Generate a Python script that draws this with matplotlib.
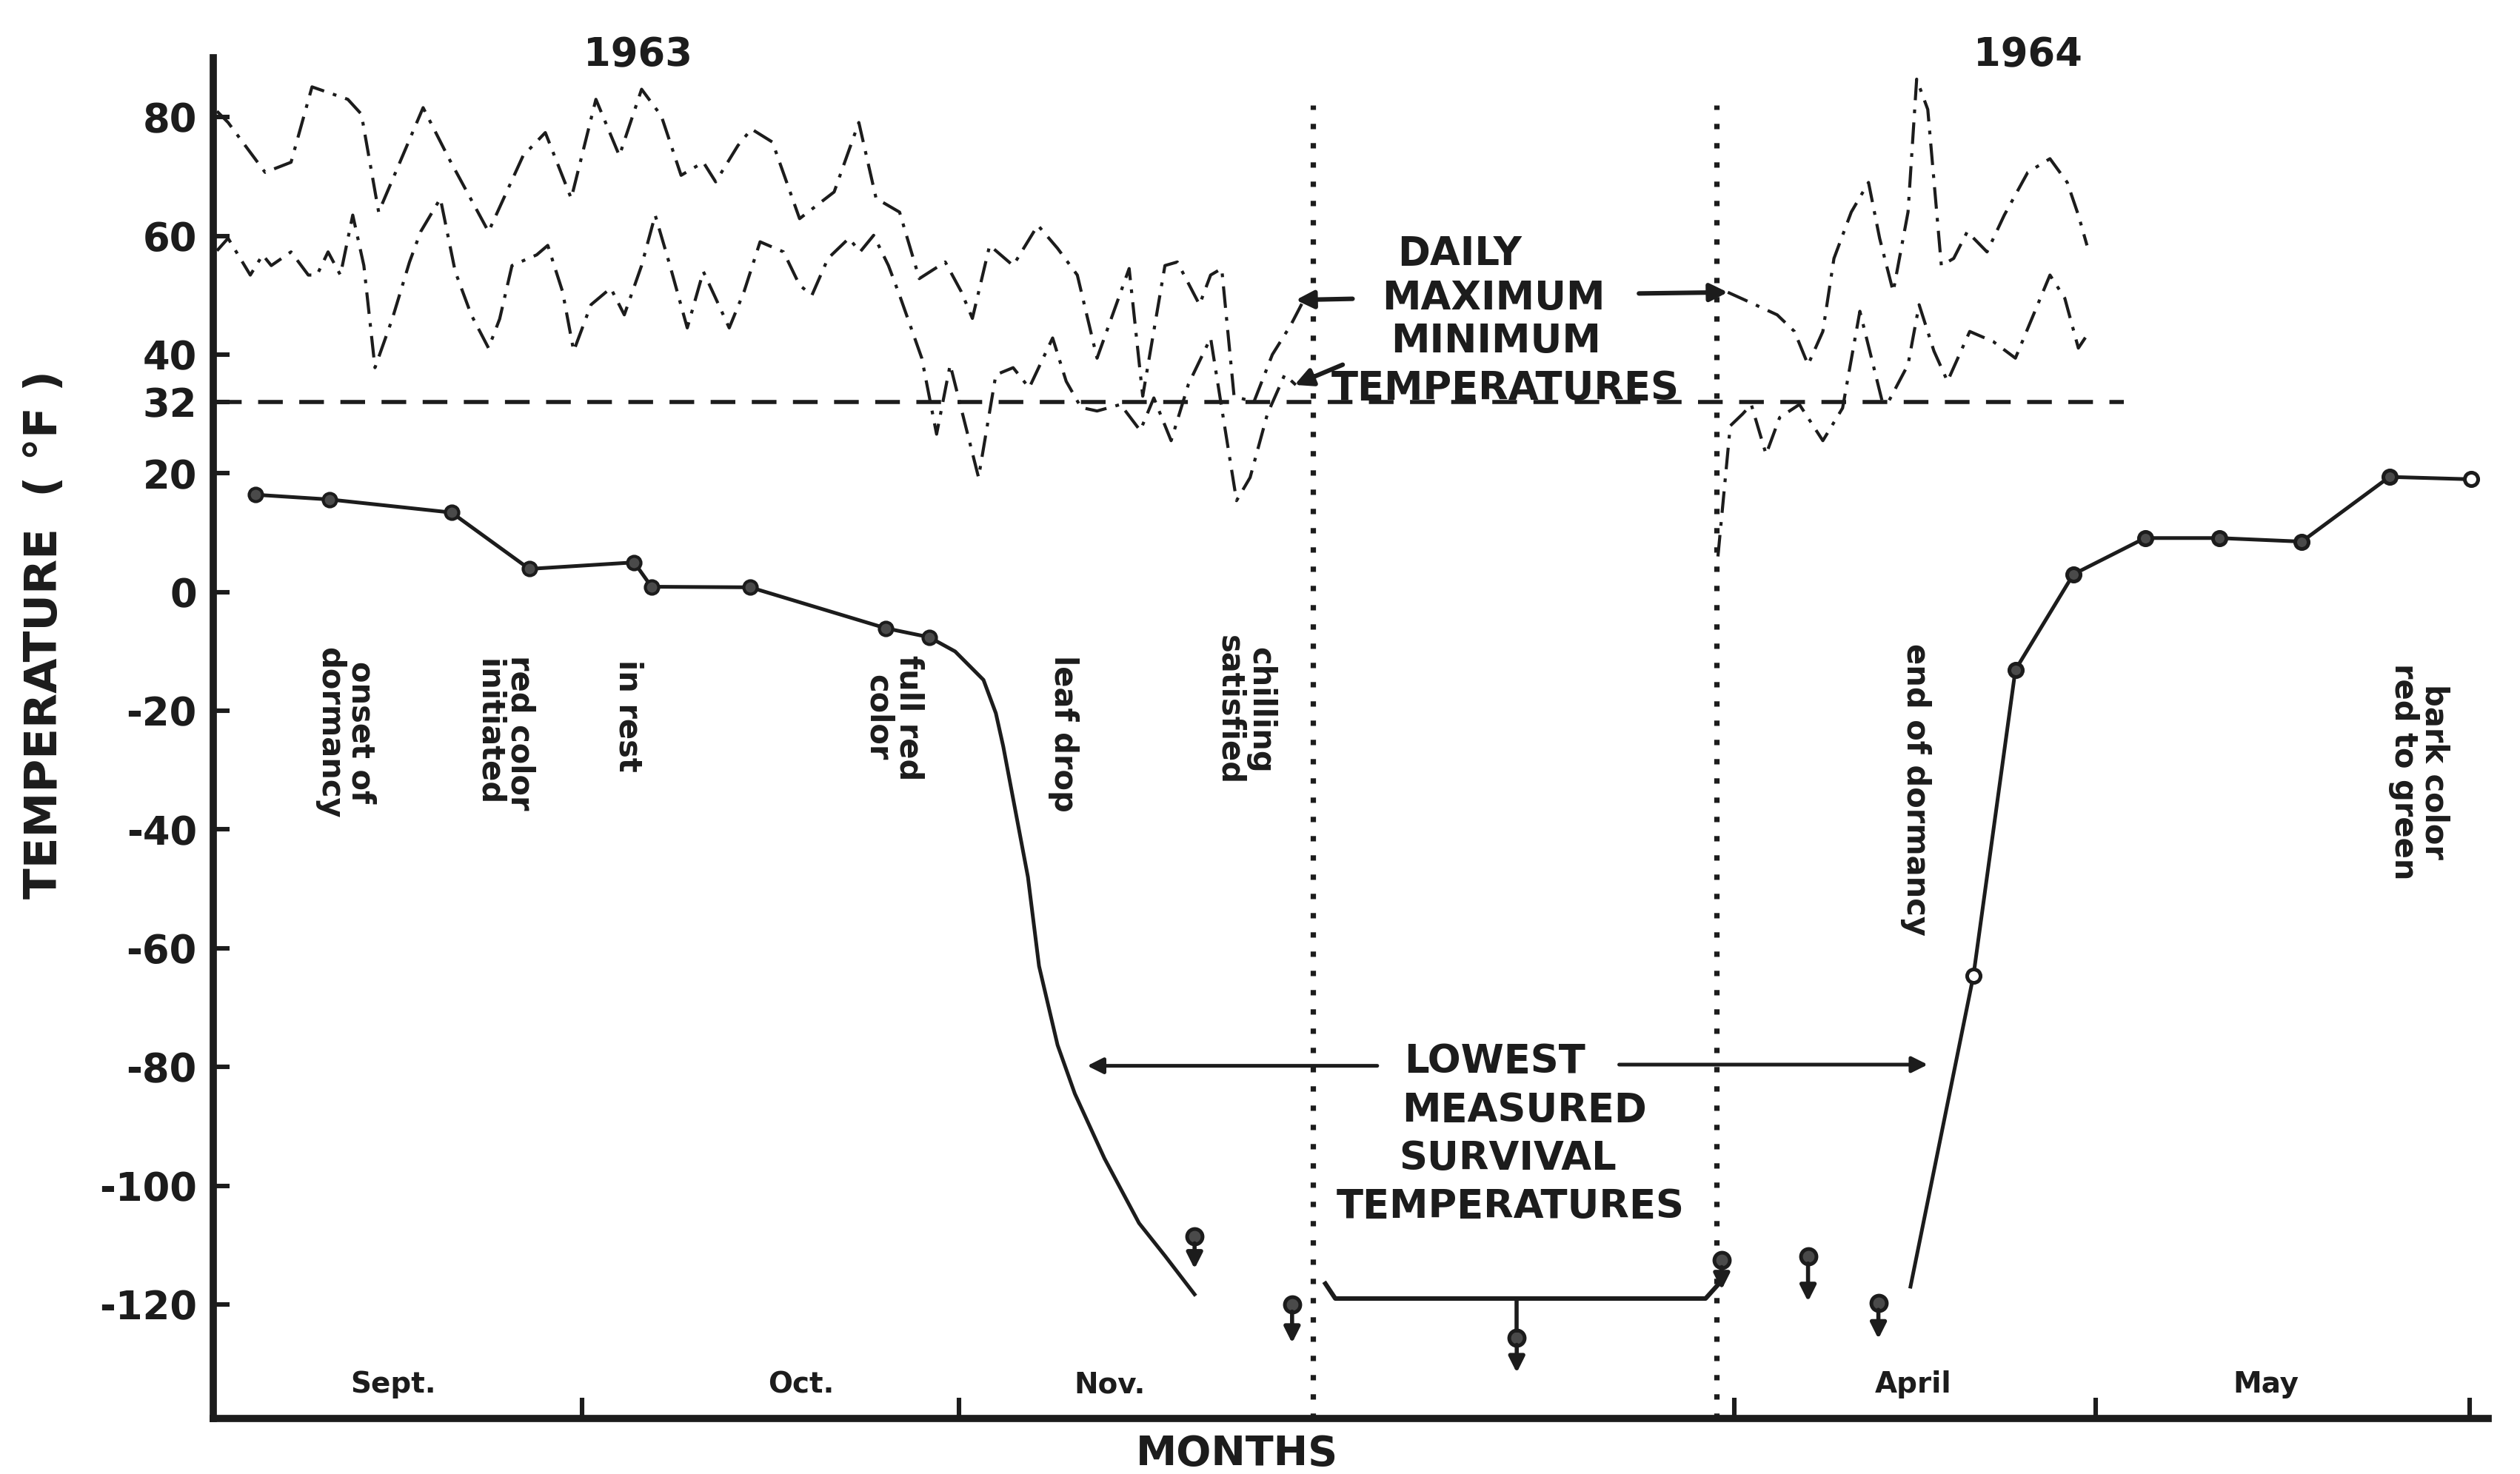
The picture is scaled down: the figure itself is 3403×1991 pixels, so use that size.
import numpy as np
import matplotlib
matplotlib.use("Agg")
import matplotlib.pyplot as plt

plt.rcParams['font.family'] = ['DejaVu Sans']
plt.rcParams['axes.unicode_minus'] = False

INK = '#1c1c1c'

# ---------------- data (x = chart day index, 0 = 1 Sept 1963; winter compressed) ----------------
max63_day = [0.0, 0.9, 3.9, 6.0, 7.7, 10.6, 11.7, 13.1, 16.7, 18.8, 22.0, 24.8, 26.6, 28.7, 30.7,
             32.6, 34.4, 36.0, 37.6, 39.4, 40.4, 42.2, 43.3, 45.0, 47.2, 50.0, 52.0, 53.4, 55.3,
             56.9, 59.0, 60.3, 61.2, 62.6, 64.5, 66.5, 68.1, 69.7, 71.3, 73.9, 75.0, 76.8, 77.8,
             79.6, 80.5, 81.4, 82.4, 84.0, 85.5, 87.0, 88.0]
max63_val = [81.0, 79.1, 70.7, 72.4, 85.1, 83.0, 80.5, 64.0, 81.6, 73.0, 60.7, 73.5, 77.4, 66.3, 83.0,
             73.5, 84.7, 80.2, 70.2, 72.4, 69.1, 75.2, 78.0, 75.8, 62.9, 67.4, 79.1, 66.3, 64.0,
             52.8, 55.6, 50.6, 46.1, 58.4, 55.0, 61.8, 57.9, 53.4, 39.4, 54.5, 33.0, 55.0, 55.6,
             48.4, 53.4, 54.5, 33.0, 32.0, 40.0, 45.0, 49.0]

min63_day = [0.0, 0.9, 2.7, 3.7, 4.4, 6.0, 7.4, 8.1, 9.0, 10.0, 11.0, 11.9, 12.8, 14.2, 15.6, 16.5,
             18.1, 19.3, 20.6, 22.0, 22.9, 23.9, 25.9, 26.8, 28.0, 28.9, 30.3, 31.9, 33.0, 34.4,
             35.5, 36.7, 38.1, 39.4, 40.4, 41.5, 42.7, 44.0, 45.9, 47.2, 48.2, 49.5, 51.2, 52.1,
             53.2, 54.4, 55.3, 57.1, 58.3, 59.4, 61.7, 63.1, 64.5, 65.8, 67.7, 68.8, 70.0, 71.3,
             73.2, 74.8, 75.9, 77.3, 78.7, 80.5, 81.4, 82.6, 83.7, 85.1, 86.5, 87.4]
min63_val = [57.5, 59.6, 53.4, 56.8, 55.0, 57.3, 53.4, 53.4, 57.3, 53.4, 63.5, 55.0, 37.8, 46.0, 55.6,
             60.7, 66.3, 54.0, 46.7, 41.1, 46.0, 55.0, 56.8, 58.4, 50.6, 40.6, 48.4, 51.2, 46.7,
             55.0, 63.5, 55.0, 44.5, 54.0, 49.5, 44.5, 50.6, 59.0, 57.3, 51.7, 50.0, 56.2, 59.6,
             57.3, 60.1, 55.0, 50.0, 39.4, 26.6, 38.3, 19.3, 36.6, 37.8, 34.4, 42.8, 35.5, 31.1,
             30.5, 31.6, 27.2, 32.7, 25.5, 35.0, 42.8, 31.0, 15.4, 19.3, 30.0, 36.6, 34.9]

max64_day = [122.4, 124.1, 126.4, 127.8, 128.9, 130.1, 131.0, 132.4, 133.8, 134.7, 135.8, 137.0,
             137.7, 138.6, 139.7, 140.7, 141.8, 143.4, 144.8, 146.7, 148.5, 149.9, 150.8, 151.5]
max64_val = [50.5, 48.9, 46.7, 43.9, 38.3, 43.9, 56.2, 64.0, 69.0, 59.6, 50.6, 64.0,
             86.4, 81.3, 55.0, 56.2, 60.7, 57.3, 63.5, 70.7, 73.0, 69.0, 63.5, 58.4]

min64_day = [121.6, 122.6, 123.6, 124.3, 125.5, 126.6, 128.2, 130.1, 131.7, 133.1, 134.9, 135.4,
             137.0, 137.9, 139.1, 140.2, 142.0, 143.9, 145.7, 148.5, 149.7, 150.8, 151.7]
min64_val = [6.0, 28.0, 30.0, 31.6, 23.2, 29.4, 31.6, 25.5, 31.0, 47.3, 32.2, 32.0,
             38.3, 48.4, 40.6, 35.5, 43.9, 42.2, 39.4, 53.4, 49.5, 41.1, 43.9]

# lowest survival temperature (hardiness), autumn 1963
fall_day = [3.1, 9.1, 19.0, 25.3, 33.8, 35.2, 43.2, 54.2, 57.7, 59.8, 62.1, 63.1, 63.7, 64.7,
            65.7, 66.6, 68.1, 69.5, 71.9, 74.7, 76.8, 79.2]
fall_val = [16.4, 15.6, 13.4, 3.9, 5.0, 0.9, 0.8, -6.1, -7.6, -10.0, -14.8, -20.4, -26.0, -37.0,
            -48.0, -63.0, -76.3, -84.5, -95.4, -106.3, -111.8, -118.3]
fall_n_measured = 9

# spring 1964
spring_day = [137.2, 142.3, 145.7, 150.4, 156.2, 162.2, 168.9, 176.0, 182.6]
spring_val = [-117.0, -64.6, -13.1, 3.0, 9.1, 9.1, 8.5, 19.4, 19.0]
spring_open = [142.3, 182.6]

# winter survival tests (survived at least this low)
surv_day = [79.2, 87.1, 105.3, 121.9, 128.9, 134.6]
surv_val = [-108.5, -120.0, -125.6, -112.5, -111.9, -119.7]
surv_tip = [-114.0, -126.5, -131.5, -117.5, -119.5, -125.8]

bracket_day = [89.8, 90.6, 120.6, 121.9]
bracket_val = [-116.5, -119.0, -119.0, -116.0]

chill_day = 88.8
dormancy_end_day = 121.5

month_bounds = [29.6, 60.1, 122.9, 152.2, 182.5]
month_names = ['Sept.', 'Oct.', 'Nov.', 'April', 'May']
month_label_day = [14.3, 47.3, 72.3, 137.4, 166.0]

yticks = [80, 60, 40, 32, 20, 0, -20, -40, -60, -80, -100, -120]

event_labels = ['onset of\ndormancy', 'red color\ninitiated', 'in rest', 'full red\ncolor',
                'leaf drop', 'chilling\nsatisfied', 'end of dormancy', 'bark color\nred to green']
event_day = [10.4, 23.3, 33.3, 54.8, 68.6, 83.3, 137.6, 178.4]
event_top = [-9.2, -10.6, -11.4, -10.6, -10.6, -7.3, -8.7, -12.0]

# ---------------- figure ----------------
W, H = 3403, 1991
fig = plt.figure(figsize=(W / 200, H / 200), dpi=200, facecolor='white')
ax = fig.add_axes([288 / W, 0.0377, (3360 - 288) / W, 0.9608 - 0.0377])
ax.set_xlim(-0.3, 184)
ax.set_ylim(-139.2, 90)

for s in ['top', 'right']:
    ax.spines[s].set_visible(False)
for s in ['left', 'bottom']:
    ax.spines[s].set_linewidth(3.5)
    ax.spines[s].set_color(INK)

ax.set_yticks(yticks)
ax.set_yticklabels([str(v) for v in yticks], fontweight='bold')
ax.tick_params(axis='y', direction='in', length=8, width=2.2, pad=8,
               labelsize=19, colors=INK)
ax.set_xticks(month_bounds)
ax.set_xticklabels([])
ax.tick_params(axis='x', direction='in', length=10, width=2.2, colors=INK)

dashdot = (0, (7, 3, 1.2, 3))
ax.plot(max63_day, max63_val, color=INK, lw=1.5, ls=dashdot)
ax.plot(min63_day, min63_val, color=INK, lw=1.5, ls=dashdot)
ax.plot(max64_day, max64_val, color=INK, lw=1.5, ls=dashdot)
ax.plot(min64_day, min64_val, color=INK, lw=1.5, ls=dashdot)

# 32 F reference
ax.plot([0, 154.5], [32, 32], color=INK, lw=2.0, ls=(0, (6, 4)))

# dotted verticals
for d in [chill_day, dormancy_end_day]:
    ax.plot([d, d], [-139.2, 82], color=INK, lw=2.6, ls=(0, (1, 2.6)))

# hardiness curves
ax.plot(fall_day, fall_val, color=INK, lw=1.8)
ax.plot(fall_day[:fall_n_measured], fall_val[:fall_n_measured], ls='none', marker='o',
        ms=6.5, mfc='#4a4a4a', mec=INK, mew=1.5)
ax.plot(spring_day, spring_val, color=INK, lw=1.8)
for d, v in zip(spring_day[1:], spring_val[1:]):
    face = 'white' if d in spring_open else '#4a4a4a'
    ax.plot([d], [v], ls='none', marker='o', ms=6.5, mfc=face, mec=INK, mew=1.8)

# survival tests with downward arrows
for d, v, t in zip(surv_day, surv_val, surv_tip):
    ax.annotate('', xy=(d, t), xytext=(d, v - 1.2),
                arrowprops=dict(arrowstyle='-|>', lw=2.0, color=INK, mutation_scale=16,
                                shrinkA=0, shrinkB=0))
    ax.plot([d], [v], ls='none', marker='o', ms=7.5, mfc='#4a4a4a', mec=INK, mew=1.8)

ax.plot(bracket_day, bracket_val, color=INK, lw=2.2)
ax.plot([surv_day[2], surv_day[2]], [bracket_val[1], surv_val[2] + 1.2], color=INK, lw=2.0)

# ---------------- texts ----------------
cap = dict(fontsize=19, color=INK, ha='center', va='center', fontweight='bold')
ax.text(34.1, 90.5, '1963', clip_on=False, **cap)
ax.text(146.7, 90.5, '1964', clip_on=False, **cap)

ax.text(100.7, 57.0, 'DAILY', **cap)
ax.text(103.4, 49.5, 'MAXIMUM', **cap)
ax.text(103.6, 42.2, 'MINIMUM', **cap)
ax.text(104.4, 34.3, 'TEMPERATURES', **cap)

arr = dict(arrowstyle='-|>', lw=2.2, color=INK, mutation_scale=18, shrinkA=0, shrinkB=0)
ax.annotate('', xy=(87.4, 49.2), xytext=(92.0, 49.4), arrowprops=arr)
ax.annotate('', xy=(122.4, 50.5), xytext=(115.2, 50.3), arrowprops=arr)
ax.annotate('', xy=(87.3, 34.9), xytext=(91.2, 38.3), arrowprops=arr)

ax.text(103.5, -79.1, 'LOWEST', **cap)
ax.text(105.9, -87.3, 'MEASURED', **cap)
ax.text(104.6, -95.4, 'SURVIVAL', **cap)
ax.text(104.8, -103.5, 'TEMPERATURES', **cap)
arr2 = dict(arrowstyle='-|>', lw=1.8, color=INK, mutation_scale=16, shrinkA=0, shrinkB=0)
ax.annotate('', xy=(70.5, -79.8), xytext=(94.0, -79.8), arrowprops=arr2)
ax.annotate('', xy=(138.6, -79.6), xytext=(113.6, -79.6), arrowprops=arr2)

for lab, d, top in zip(event_labels, event_day, event_top):
    ax.text(d, top, lab, rotation=-90, ha='center', va='top', fontsize=15,
            fontweight='bold', color=INK, linespacing=1.0)

for name, d in zip(month_names, month_label_day):
    ax.text(d, -133.5, name, ha='center', va='center', fontsize=14,
            fontweight='bold', color=INK)

fig.text(770 * 2.17 / W, 1 - 905 * 2.17 / H, 'MONTHS', ha='center', va='center',
         fontsize=20, fontweight='bold', color=INK)
fig.text(28 * 2.17 / W, 1 - 395 * 2.17 / H, 'TEMPERATURE  ( °F )', rotation=90,
         ha='center', va='center', fontsize=22, fontweight='bold', color=INK)

fig.savefig('out.png', dpi=200, facecolor='white')
